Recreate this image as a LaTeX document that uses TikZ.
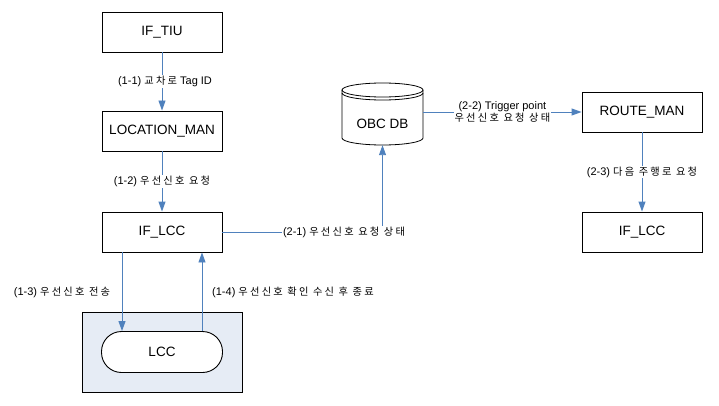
\documentclass[tikz,border=0pt]{standalone}
\usepackage{fontspec}
\setmainfont{Liberation Sans}
\newfontfamily\kr[LetterSpace=22,Scale=0.93]{Noto Sans CJK KR}
\usetikzlibrary{arrows.meta}
\definecolor{arrowblue}{HTML}{4F81BD}
\definecolor{panelfill}{HTML}{E6ECF5}
\begin{document}
\begin{tikzpicture}[x=1pt,y=-1pt,
  box/.style={draw=black,line width=0.9pt,minimum width=120pt,minimum height=40pt,inner sep=0pt,font=\fontsize{13.5}{15}\selectfont},
  flow/.style={draw=arrowblue,line width=0.9pt,-{Triangle[width=7pt,length=10pt]}},
  lbl/.style={font=\fontsize{11}{13}\selectfont,inner sep=1pt},
  lblw/.style={lbl,fill=white}]
\useasboundingbox (0,0) rectangle (719,406);
% nodes
\node[box] (iftiu) at (162,32) {IF\_TIU};
\node[box] (loc) at (162,131) {LOCATION\_MAN};
\node[box] (iflcc) at (162,232) {IF\_LCC};
\node[draw=black,line width=0.9pt,fill=panelfill,minimum width=160pt,minimum height=80pt,inner sep=0pt] (panel) at (162,352) {};
\node[box,fill=white,rounded corners=20pt,minimum width=121pt,minimum height=41pt] (lcc) at (162,352) {LCC};
\node[box] (route) at (642,112) {ROUTE\_MAN};
\node[box] (iflcc2) at (642,232) {IF\_LCC};
% OBC DB cylinder
\node[minimum width=81pt,minimum height=62pt,inner sep=0pt] (obc) at (382.5,114) {};
\node[font=\fontsize{13.5}{15}\selectfont] (obctext) at (382.5,124) {OBC DB};
\draw[line width=0.8pt] (342,90) -- (342,138) arc[start angle=180,end angle=360,x radius=40.5pt,y radius=7pt] -- (423,90);
\draw[line width=0.8pt] (382.5,90) ellipse[x radius=40.5pt,y radius=7pt];
\draw[line width=0.8pt] (342,93) arc[start angle=180,end angle=360,x radius=40.5pt,y radius=7pt];
% connectors
\draw[flow] (iftiu.south) -- node[lblw,xshift=3pt] {(1-1) {\kr 교차로} Tag ID} (loc.north);
\draw[flow] (loc.south) -- node[lblw] {(1-2) {\kr 우선신호 요청}} (iflcc.north);
\draw[flow] ([xshift=-40pt]iflcc.south) -- ([xshift=-40pt]lcc.north);
\draw[flow] ([xshift=40pt]lcc.north) -- ([xshift=40pt]iflcc.south);
\node[lbl] (l13) at (62,292) {(1-3) {\kr 우선신호 전송}};
\node[lbl,anchor=west] (l14) at (211,292) {(1-4) {\kr 우선신호 확인 수신 후 종료}};
\coordinate (c21) at (obc.south |- iflcc.east);
\draw[flow] (iflcc.east) -- (c21) -- (obc.south);
\node[lblw] (l21) at (344,232) {(2-1) {\kr 우선신호 요청 상태}};
\draw[flow] (obc.east |- route.west) -- node[lblw,align=center,font=\fontsize{11}{12}\selectfont,inner sep=0.5pt] {(2-2) Trigger point\\{\kr 우선신호 요청 상태}} (route.west);
\draw[flow] (route.south) -- node[lblw] {(2-3) {\kr 다음 주행로 요청}} (iflcc2.north);
\end{tikzpicture}
\end{document}
